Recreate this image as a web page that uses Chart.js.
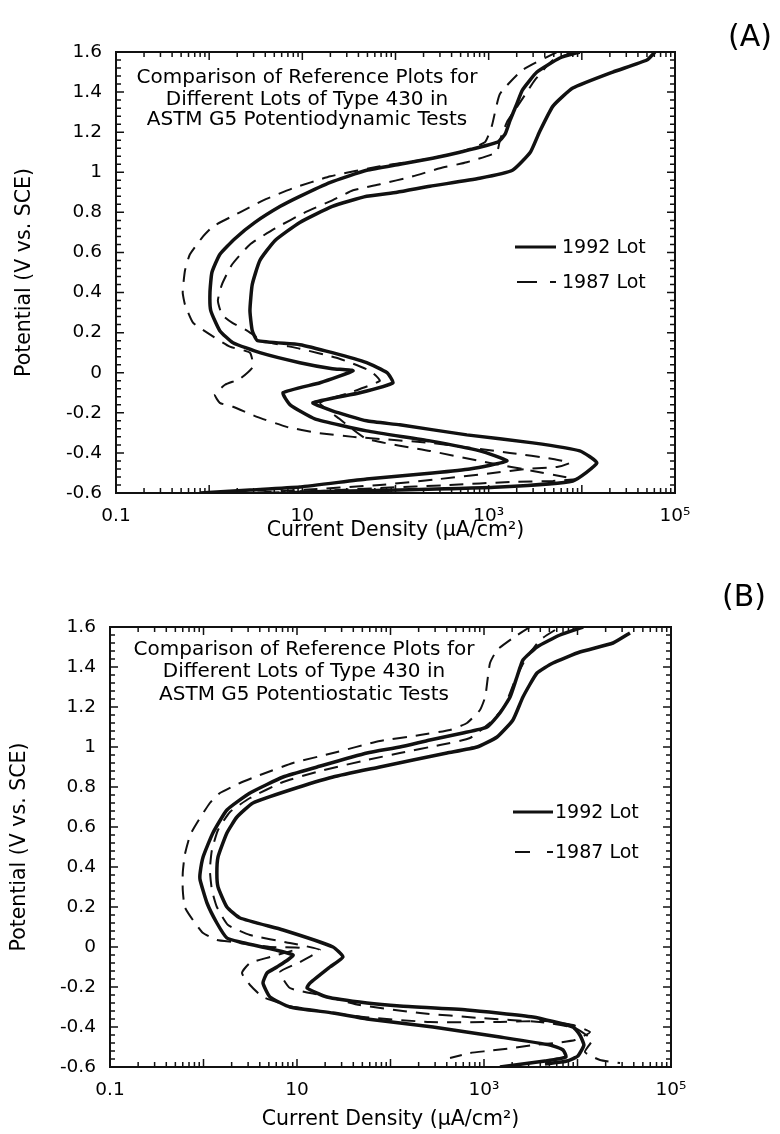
<!DOCTYPE html>
<html>
<head>
<meta charset="utf-8">
<script src="https://cdn.jsdelivr.net/npm/chart.js@4.4.1/dist/chart.umd.min.js"></script>
<style>
html,body{margin:0;padding:0;background:#fff;}
#wrap{position:relative;width:780px;height:1134px;background:#fff;}
canvas{display:block;}
</style>
</head>
<body>
<div id="wrap">
<canvas id="cA" width="780" height="567" style="width:780px;height:567px"></canvas>
<canvas id="cB" width="780" height="567" style="width:780px;height:567px"></canvas>
</div>
<script>
// ---------- axis ticks ----------
const yTickValues = [-0.6, -0.4, -0.2, 0, 0.2, 0.4, 0.6, 0.8, 1.0, 1.2, 1.4, 1.6];
const yTickLabels = ['-0.6', '-0.4', '-0.2', '0', '0.2', '0.4', '0.6', '0.8', '1', '1.2', '1.4', '1.6'];
const xTickValues = [0.1, 10, 1000, 100000];
const xTickLabels = ['0.1', '10', '10\u00B3', '10\u2075'];
const xAxisTitle = 'Current Density (\u00B5A/cm\u00B2)';
const yAxisTitle = 'Potential (V vs. SCE)';
const legendLabels = ['1992 Lot', '1987 Lot'];

// ---------- Panel A : potentiodynamic ----------
const aInset = ['Comparison of Reference Plots for', 'Different Lots of Type 430 in', 'ASTM G5 Potentiodynamic Tests'];
// 1992 lot, lower bound (current in uA/cm2, potential in V)
const a1992LowI = [9500, 5800, 3300, 2300, 2000, 1700, 1500, 1250, 490, 250, 111, 49, 20, 9.4, 5.8, 3.1, 1.9, 1.3, 1.07, 1.02, 1.04, 1.3, 1.8, 3.5, 9.4, 21, 35, 15.5, 6.2, 7.4, 13.6, 49, 234, 805, 1570, 628, 250, 49, 9.4, 2.74, 0.80];
const a1992LowE = [1.60, 1.57, 1.50, 1.41, 1.34, 1.26, 1.19, 1.15, 1.10, 1.07, 1.04, 1.01, 0.95, 0.88, 0.83, 0.75, 0.67, 0.59, 0.50, 0.40, 0.31, 0.21, 0.15, 0.10, 0.05, 0.02, 0.01, -0.05, -0.10, -0.16, -0.23, -0.29, -0.34, -0.39, -0.44, -0.48, -0.50, -0.53, -0.57, -0.585, -0.60];
// 1992 lot, upper bound
const a1992HighI = [61000, 50000, 21500, 8000, 4900, 3500, 2800, 1800, 800, 234, 104, 49, 21, 9.4, 5.1, 3.5, 2.9, 2.74, 2.9, 3.3, 9.4, 21, 49, 81, 94, 41.5, 13, 21, 49, 111, 583, 2980, 9500, 14500, 8000, 1320, 111, 9.4];
const a1992HighE = [1.60, 1.56, 1.50, 1.42, 1.33, 1.20, 1.10, 1.01, 0.97, 0.93, 0.90, 0.88, 0.83, 0.75, 0.66, 0.56, 0.44, 0.31, 0.21, 0.16, 0.14, 0.10, 0.05, 0.00, -0.05, -0.10, -0.15, -0.19, -0.24, -0.26, -0.31, -0.35, -0.39, -0.45, -0.54, -0.57, -0.585, -0.595];
// 1987 lot, lower bound
const a1987LowI = [5400, 2300, 1320, 1080, 910, 490, 183, 68, 20, 7.9, 3.8, 2.14, 1.10, 0.86, 0.62, 0.55, 0.52, 0.55, 0.67, 0.95, 1.67, 2.74, 2.95, 2.14, 1.48, 1.15, 1.3, 1.8, 3.26, 6.8, 14.3, 35, 234, 1690, 4900, 7430, 5400, 2570, 1110, 300, 68, 9.4, 2.74];
const a1987LowE = [1.60, 1.51, 1.39, 1.23, 1.15, 1.10, 1.06, 1.03, 0.98, 0.92, 0.86, 0.80, 0.73, 0.68, 0.59, 0.51, 0.40, 0.34, 0.25, 0.20, 0.13, 0.10, 0.03, -0.03, -0.06, -0.11, -0.15, -0.17, -0.22, -0.27, -0.30, -0.32, -0.35, -0.40, -0.43, -0.45, -0.47, -0.48, -0.50, -0.53, -0.56, -0.585, -0.60];
// 1987 lot, upper bound
const a1987HighI = [8400, 4900, 3130, 2570, 1910, 1570, 1320, 1220, 583, 300, 154, 68, 35, 21, 10.7, 5.1, 2.74, 1.76, 1.37, 1.24, 1.37, 1.76, 2.55, 3.7, 9.4, 25, 53, 68, 32, 15.5, 25, 49, 234, 1030, 2980, 6570, 8840, 4900, 1690, 384, 68, 15.5, 3.5];
const a1987HighE = [1.60, 1.56, 1.46, 1.40, 1.31, 1.25, 1.16, 1.10, 1.05, 1.02, 0.98, 0.94, 0.91, 0.86, 0.80, 0.72, 0.64, 0.54, 0.44, 0.36, 0.29, 0.25, 0.21, 0.16, 0.12, 0.07, 0.01, -0.04, -0.10, -0.15, -0.23, -0.33, -0.39, -0.45, -0.49, -0.52, -0.53, -0.54, -0.545, -0.56, -0.575, -0.59, -0.60];

// ---------- Panel B : potentiostatic ----------
const bInset = ['Comparison of Reference Plots for', 'Different Lots of Type 430 in', 'ASTM G5 Potentiostatic Tests'];
const b1992LowI = [11500, 6500, 3690, 2610, 2250, 1900, 1480, 1080, 596, 264, 126, 56, 16.4, 7.1, 3.14, 1.78, 1.26, 0.99, 0.92, 0.92, 1.09, 1.39, 1.78, 2.46, 9.06, 6.1, 4.78, 4.33, 5.14, 8.4, 24.3, 56, 285, 1480, 5080, 7000, 7530, 4490, 1480];
const b1992LowE = [1.60, 1.56, 1.50, 1.435, 1.35, 1.25, 1.17, 1.10, 1.07, 1.035, 1.00, 0.97, 0.90, 0.85, 0.77, 0.685, 0.57, 0.45, 0.37, 0.335, 0.22, 0.12, 0.045, 0.025, -0.04, -0.10, -0.13, -0.18, -0.25, -0.30, -0.33, -0.36, -0.40, -0.45, -0.49, -0.515, -0.55, -0.57, -0.60];
const b1992HighI = [36400, 24000, 10600, 5470, 3690, 2610, 2040, 1380, 842, 402, 174, 77, 24.3, 8.4, 3.38, 2.28, 1.78, 1.43, 1.39, 1.43, 1.78, 2.46, 7.1, 24.3, 31, 22.5, 13.8, 12.8, 20.9, 56, 126, 658, 3340, 8950, 10600, 11700, 10100, 7720, 4490];
const b1992HighE = [1.57, 1.52, 1.475, 1.42, 1.37, 1.25, 1.135, 1.05, 1.00, 0.97, 0.935, 0.90, 0.85, 0.785, 0.72, 0.65, 0.57, 0.45, 0.37, 0.30, 0.20, 0.145, 0.085, 0.00, -0.05, -0.10, -0.18, -0.205, -0.25, -0.28, -0.295, -0.315, -0.35, -0.40, -0.44, -0.49, -0.545, -0.57, -0.585];
const b1987LowI = [3100, 2040, 1380, 1160, 1080, 1030, 906, 658, 433, 207, 77, 24.3, 9.06, 4.02, 2.46, 1.50, 1.17, 0.85, 0.72, 0.63, 0.60, 0.60, 0.63, 0.77, 0.99, 1.39, 2.07, 5.14, 10.8, 5.14, 3.14, 2.58, 3.14, 4.33, 9.06, 51, 264, 1480, 4490, 8950, 13600, 9400, 5740, 3340, 2040, 1080, 708, 433];
const b1987LowE = [1.60, 1.545, 1.485, 1.42, 1.32, 1.25, 1.185, 1.12, 1.085, 1.06, 1.03, 0.97, 0.92, 0.86, 0.82, 0.77, 0.72, 0.62, 0.56, 0.46, 0.37, 0.285, 0.20, 0.135, 0.07, 0.035, 0.025, 0.00, -0.005, -0.05, -0.08, -0.13, -0.19, -0.25, -0.30, -0.35, -0.375, -0.375, -0.37, -0.39, -0.425, -0.465, -0.48, -0.49, -0.505, -0.52, -0.53, -0.555];
const b1987HighI = [5740, 3970, 2750, 2150, 1680, 1250, 708, 338, 126, 56, 17.6, 7.1, 3.14, 1.92, 1.43, 1.23, 1.17, 1.23, 1.39, 1.83, 3.14, 8.4, 17.6, 10.8, 6.58, 8.4, 17.6, 47, 207, 906, 3970, 9400, 14300, 12000, 17400, 28500];
const b1987HighE = [1.585, 1.535, 1.435, 1.335, 1.21, 1.135, 1.045, 1.01, 0.97, 0.935, 0.88, 0.825, 0.745, 0.675, 0.585, 0.485, 0.385, 0.285, 0.20, 0.11, 0.06, 0.02, -0.015, -0.075, -0.125, -0.205, -0.24, -0.29, -0.33, -0.355, -0.375, -0.405, -0.465, -0.525, -0.565, -0.58];

// ---------- rendering helpers ----------
const FONT = '"DejaVu Sans", "Liberation Sans", Arial, sans-serif';
const INK = '#111';
Chart.defaults.font.family = FONT;
Chart.defaults.color = '#000';

function pts(I, E) { return I.map((v, i) => ({ x: v, y: E[i] })); }
function solidSet(I, E) {
  return { data: pts(I, E), showLine: true, borderColor: INK, borderWidth: 3.5, pointRadius: 0, tension: 0.15, fill: false };
}
function dashSet(I, E) {
  return { data: pts(I, E), showLine: true, borderColor: INK, borderWidth: 2, borderDash: [14, 9], pointRadius: 0, tension: 0.15, fill: false };
}

function decorPlugin(g) {
  return {
    id: 'decor',
    afterDraw(chart) {
      const ctx = chart.ctx;
      const { left, right, top, bottom } = chart.chartArea;
      const xs = chart.scales.x, ys = chart.scales.y;
      ctx.save();
      // inward ticks
      ctx.strokeStyle = INK;
      ctx.lineWidth = 1.5;
      ctx.beginPath();
      for (let k = 0; k <= 55; k++) {
        const v = -0.6 + k * 0.04;
        const p = ys.getPixelForValue(v);
        const len = (k % 5 === 0) ? 8 : 5;
        ctx.moveTo(left, p); ctx.lineTo(left + len, p);
        ctx.moveTo(right, p); ctx.lineTo(right - len, p);
      }
      for (let d = -1; d <= 5; d++) {
        for (let m = 1; m <= 9; m++) {
          if (d === 5 && m > 1) break;
          const v = m * Math.pow(10, d);
          const p = xs.getPixelForValue(v);
          const len = (m === 1) ? 8 : 5;
          ctx.moveTo(p, bottom); ctx.lineTo(p, bottom - len);
          ctx.moveTo(p, top); ctx.lineTo(p, top + len);
        }
      }
      ctx.stroke();
      // frame
      ctx.lineWidth = 2;
      ctx.strokeRect(left, top, right - left, bottom - top);
      // inset text
      ctx.fillStyle = '#000';
      ctx.font = '20px ' + FONT;
      ctx.textAlign = 'center';
      ctx.textBaseline = 'middle';
      g.inset.forEach((t, i) => ctx.fillText(t, left + g.insetX, top + g.insetY[i]));
      // legend
      ctx.font = '19px ' + FONT;
      ctx.textAlign = 'left';
      ctx.lineWidth = 3;
      ctx.beginPath();
      ctx.moveTo(left + g.legX0, top + g.legY[0]);
      ctx.lineTo(left + g.legX1, top + g.legY[0]);
      ctx.stroke();
      ctx.lineWidth = 2;
      ctx.setLineDash(g.legDash);
      ctx.beginPath();
      ctx.moveTo(left + g.legX0 + 2, top + g.legY[1]);
      ctx.lineTo(left + g.legX1, top + g.legY[1]);
      ctx.stroke();
      ctx.setLineDash([]);
      ctx.fillText(legendLabels[0], left + g.legTextX, top + g.legY[0] + 1);
      ctx.fillText(legendLabels[1], left + g.legTextX, top + g.legY[1] + 1);
      // panel label
      ctx.font = '30px ' + FONT;
      ctx.textAlign = 'center';
      ctx.fillText(g.panel, g.panelX, g.panelY);
      ctx.restore();
    }
  };
}

function makeChart(canvasId, g, sets) {
  return new Chart(document.getElementById(canvasId), {
    type: 'scatter',
    data: { datasets: sets },
    options: {
      responsive: false,
      animation: false,
      devicePixelRatio: 1,
      events: [],
      layout: { padding: { left: 0, top: g.top, right: 780 - g.right, bottom: 0 } },
      plugins: { legend: { display: false }, tooltip: { enabled: false }, title: { display: false } },
      scales: {
        x: {
          type: 'logarithmic', position: 'bottom', min: 0.1, max: 100000,
          afterFit(s) { s.height = 567 - g.bottom; },
          afterBuildTicks(s) { s.ticks = xTickValues.map(v => ({ value: v })); },
          ticks: { autoSkip: false, maxRotation: 0, minRotation: 0, padding: 12, color: '#000', font: { size: 18.5 },
                   callback: (v, i) => xTickLabels[i] },
          grid: { display: false, drawTicks: false },
          border: { display: false },
          title: { display: true, text: xAxisTitle, color: '#000', font: { size: 20.5 }, padding: { top: 0, bottom: g.xTitlePad } }
        },
        y: {
          type: 'linear', position: 'left', min: -0.6, max: 1.6,
          afterFit(s) { s.width = g.left; },
          afterBuildTicks(s) { s.ticks = yTickValues.map(v => ({ value: v })); },
          ticks: { autoSkip: false, padding: 14, color: '#000', font: { size: 18.5 },
                   callback: (v, i) => yTickLabels[i] },
          grid: { display: false, drawTicks: false },
          border: { display: false },
          title: { display: true, text: yAxisTitle, color: '#000', font: { size: 20.5 }, padding: { top: g.yTitlePad, bottom: 0 } }
        }
      }
    },
    plugins: [decorPlugin(g)]
  });
}

const geomA = { left: 116, top: 52, right: 675, bottom: 493, xTitlePad: 24, yTitlePad: 12.5,
  inset: aInset, insetX: 191, insetY: [26, 48, 68],
  legX0: 399, legX1: 440, legTextX: 446, legY: [195, 230], legDash: [20, 13],
  panel: '(A)', panelX: 750, panelY: 38 };
const geomB = { left: 110, top: 60, right: 671, bottom: 500, xTitlePad: 2, yTitlePad: 7.5,
  inset: bInset, insetX: 194, insetY: [23, 45, 68],
  legX0: 403, legX1: 443, legTextX: 445, legY: [185, 225], legDash: [15, 17],
  panel: '(B)', panelX: 744, panelY: 31 };

makeChart('cA', geomA, [
  solidSet(a1992LowI, a1992LowE),
  solidSet(a1992HighI, a1992HighE),
  dashSet(a1987LowI, a1987LowE),
  dashSet(a1987HighI, a1987HighE)
]);
makeChart('cB', geomB, [
  solidSet(b1992LowI, b1992LowE),
  solidSet(b1992HighI, b1992HighE),
  dashSet(b1987LowI, b1987LowE),
  dashSet(b1987HighI, b1987HighE)
]);
</script>
</body>
</html>
